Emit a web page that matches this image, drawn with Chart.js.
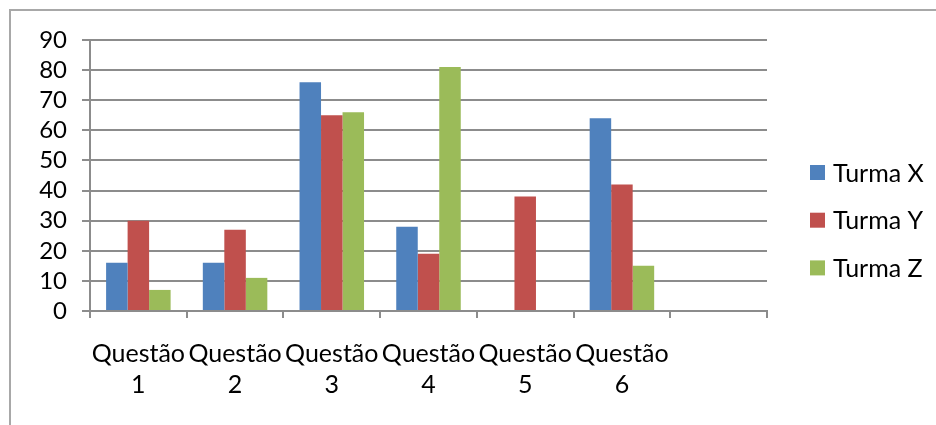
<!DOCTYPE html>
<html>
<head>
<meta charset="utf-8">
<script src="https://cdn.jsdelivr.net/npm/chart.js@4"></script>
<style>
  html, body { margin: 0; padding: 0; background: #ffffff; overflow: hidden; }
  #wrap { position: relative; width: 936px; height: 425px; }
  #frame { position: absolute; left: 9px; top: 9px; width: 1000px; height: 500px;
           border: 2px solid #a8a8a8; box-sizing: border-box; }
  canvas { position: absolute; left: 0; top: 0; }
</style>
</head>
<body>
<div id="wrap">
  <div id="frame"></div>
  <canvas id="c" width="936" height="425"></canvas>
</div>
<script>
// Categories (the last slot is left empty on the axis)
const categories = [
  ["Questão", "1"], ["Questão", "2"], ["Questão", "3"],
  ["Questão", "4"], ["Questão", "5"], ["Questão", "6"], ""
];

// Scores per class
const turmaX = [16, 16, 76, 28, 0, 64, null];
const turmaY = [30, 27, 65, 19, 38, 42, null];
const turmaZ = [7, 11, 66, 81, 0, 15, null];

// Y axis ticks
const yTicks = [0, 10, 20, 30, 40, 50, 60, 70, 80, 90];

const seriesNames = ["Turma X", "Turma Y", "Turma Z"];
const seriesColors = ["#4F81BD", "#C0504D", "#9BBB59"];

const FONT = "Lato, 'Liberation Sans', sans-serif";
const GRID = "#8c8c8c";

// Legend drawn at a fixed spot to the right of the plot
const sideLegend = {
  id: "sideLegend",
  afterDraw(chart) {
    const ctx = chart.ctx;
    ctx.save();
    ctx.font = "25px " + FONT;
    ctx.textBaseline = "middle";
    ctx.textAlign = "left";
    chart.data.datasets.forEach((ds, i) => {
      const cy = 172.5 + i * 47.7;
      ctx.fillStyle = ds.backgroundColor;
      ctx.fillRect(810, cy - 7.5, 15, 15);
      ctx.fillStyle = "#000000";
      ctx.fillText(ds.label, 833, cy + 1);
    });
    ctx.restore();
  }
};

new Chart(document.getElementById("c"), {
  type: "bar",
  data: {
    labels: categories,
    datasets: [
      { label: seriesNames[0], data: turmaX, backgroundColor: seriesColors[0] },
      { label: seriesNames[1], data: turmaY, backgroundColor: seriesColors[1] },
      { label: seriesNames[2], data: turmaZ, backgroundColor: seriesColors[2] }
    ]
  },
  options: {
    responsive: false,
    animation: false,
    events: [],
    layout: { padding: { left: 0, top: 40, right: 169, bottom: 0 } },
    datasets: { bar: { categoryPercentage: 0.667, barPercentage: 1.0 } },
    plugins: {
      legend: { display: false },
      tooltip: { enabled: false }
    },
    scales: {
      x: {
        offset: true,
        grid: {
          display: true, offset: true, drawOnChartArea: false, drawTicks: true,
          tickLength: 7, color: GRID, lineWidth: 2
        },
        border: { display: true, color: GRID, width: 2 },
        ticks: {
          autoSkip: false, maxRotation: 0, minRotation: 0,
          color: "#000000", padding: 21,
          font: { family: FONT, size: 25, lineHeight: 1.22 }
        },
        afterFit(scale) { scale.height = 114; }
      },
      y: {
        min: 0, max: 90,
        afterBuildTicks(scale) { scale.ticks = yTicks.map(v => ({ value: v })); },
        grid: { color: GRID, lineWidth: 2, tickLength: 8, drawTicks: true },
        border: { display: true, color: GRID, width: 2 },
        ticks: {
          autoSkip: false,
          color: "#000000", padding: 15,
          font: { family: FONT, size: 24 }
        },
        afterFit(scale) { scale.width = 90; }
      }
    }
  },
  plugins: [sideLegend]
});
</script>
</body>
</html>
